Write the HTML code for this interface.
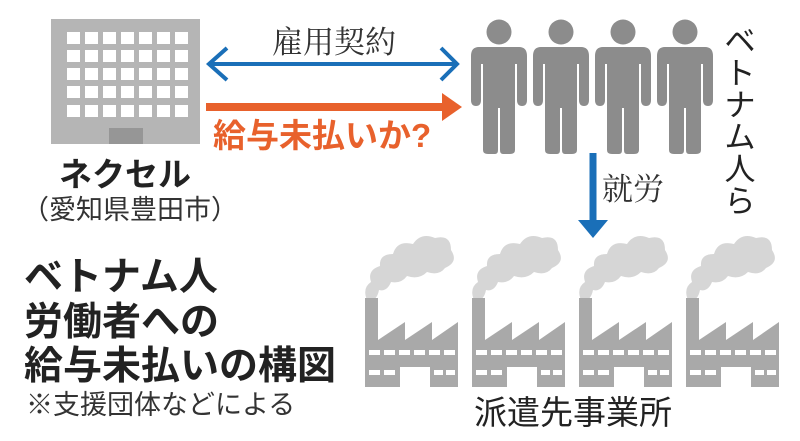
<!DOCTYPE html>
<html><head><meta charset="utf-8"><style>
html,body{margin:0;padding:0;background:#fff}
svg{display:block}
text{font-family:"Liberation Sans","Noto Sans CJK JP",sans-serif}
</style></head><body>
<svg width="800" height="441" viewBox="0 0 800 441" xmlns="http://www.w3.org/2000/svg">
<defs>
<g id="person" fill="#8c8c8c">
 <circle cx="0" cy="32" r="12.5"/>
 <path d="M-20,47 Q-28,47 -28,56 L-28,100 Q-28,106 -23,106 Q-18,106 -18,100 L-18,64 L-16,64 L-16,150 Q-16,154 -11,154 L-4,154 Q-1,154 -1,150 L-1,108 L1,108 L1,150 Q1,154 4,154 L11,154 Q16,154 16,150 L16,64 L18,64 L18,100 Q18,106 23,106 Q28,106 28,100 L28,56 Q28,47 20,47 Z"/>
</g>
<g id="factory">
 <path fill="#d6d6d6" d="M2,70 Q-3,58 6,52 Q2,40 15,36 Q14,24 28,24 Q32,10 48,14 Q56,2 70,8 Q86,4 86,20 Q94,32 80,38 Q74,46 62,42 Q54,50 42,46 Q36,54 26,52 Q22,62 14,60 Q12,70 6,70 Z"/>
 <path fill="#a9a9a9" d="M0,68 L13,68 L13,110 L40,92 L40,110 L67,92 L67,110 L93,92 L93,157 L65,157 L65,137 L35,137 L35,157 L0,157 Z"/>
 <g fill="#fff">
  <rect x="4" y="120" width="11" height="5"/><rect x="19" y="120" width="11" height="5"/><rect x="34" y="120" width="11" height="5"/><rect x="49" y="120" width="11" height="5"/><rect x="64" y="120" width="11" height="5"/><rect x="79" y="120" width="11" height="5"/>
  <rect x="4" y="140" width="11" height="5"/><rect x="19" y="140" width="11" height="5"/><rect x="69" y="140" width="9" height="5"/><rect x="81" y="140" width="9" height="5"/>
 </g>
</g>
</defs>

<rect x="51" y="19" width="149" height="125" fill="#b5b5b5"/>
<rect x="109" y="128" width="34" height="16" fill="#969696"/>
<g fill="#fff">
 <rect x="67" y="32" width="13" height="12"/><rect x="85" y="32" width="13" height="12"/><rect x="103" y="32" width="13" height="12"/><rect x="121" y="32" width="13" height="12"/><rect x="139" y="32" width="13" height="12"/><rect x="157" y="32" width="13" height="12"/><rect x="175" y="32" width="13" height="12"/>
 <rect x="67" y="50" width="13" height="12"/><rect x="85" y="50" width="13" height="12"/><rect x="103" y="50" width="13" height="12"/><rect x="121" y="50" width="13" height="12"/><rect x="139" y="50" width="13" height="12"/><rect x="157" y="50" width="13" height="12"/><rect x="175" y="50" width="13" height="12"/>
 <rect x="67" y="68" width="13" height="12"/><rect x="85" y="68" width="13" height="12"/><rect x="103" y="68" width="13" height="12"/><rect x="121" y="68" width="13" height="12"/><rect x="139" y="68" width="13" height="12"/><rect x="157" y="68" width="13" height="12"/><rect x="175" y="68" width="13" height="12"/>
 <rect x="67" y="86" width="13" height="12"/><rect x="85" y="86" width="13" height="12"/><rect x="103" y="86" width="13" height="12"/><rect x="121" y="86" width="13" height="12"/><rect x="139" y="86" width="13" height="12"/><rect x="157" y="86" width="13" height="12"/><rect x="175" y="86" width="13" height="12"/>
 <rect x="67" y="105" width="13" height="12"/><rect x="85" y="105" width="13" height="12"/><rect x="103" y="105" width="13" height="12"/><rect x="121" y="105" width="13" height="12"/><rect x="139" y="105" width="13" height="12"/><rect x="157" y="105" width="13" height="12"/><rect x="175" y="105" width="13" height="12"/>
</g>

<line x1="209" y1="64" x2="457" y2="64" stroke="#1a6fb8" stroke-width="4"/>
<polyline points="227,48 209,64 227,80" fill="none" stroke="#1a6fb8" stroke-width="4"/>
<polyline points="441,48 457,64 441,80" fill="none" stroke="#1a6fb8" stroke-width="4"/>
<text x="334" y="53" font-size="31" fill="#333" text-anchor="middle" style="font-family:'Noto Serif CJK SC','Liberation Serif',serif">雇用契約</text>

<line x1="206" y1="107" x2="445" y2="107" stroke="#e8612c" stroke-width="8"/>
<polygon points="442,93 462,107 442,121" fill="#e8612c"/>
<text x="213" y="147" font-size="33" font-weight="bold" fill="#e8612c">給与未払いか?</text>

<text x="125" y="186" font-size="33" font-weight="bold" fill="#222" text-anchor="middle">ネクセル</text>
<text x="130" y="219" font-size="27" fill="#333" text-anchor="middle">（愛知県豊田市）</text>

<use href="#person" x="499" y="0"/>
<use href="#person" x="561" y="0"/>
<use href="#person" x="623" y="0"/>
<use href="#person" x="685" y="0"/>

<g font-size="31" fill="#222" text-anchor="middle">
 <text x="740" y="52">ベ</text><text x="740" y="84">ト</text><text x="740" y="116">ナ</text><text x="740" y="148">ム</text><text x="740" y="180">人</text><text x="740" y="212">ら</text>
</g>

<line x1="593" y1="153" x2="593" y2="224" stroke="#1a6fb8" stroke-width="7"/>
<polygon points="578,220 608,220 593,238" fill="#1a6fb8"/>
<text x="602" y="200" font-size="31" fill="#333" style="font-family:'Noto Serif CJK SC','Liberation Serif',serif">就労</text>

<use href="#factory" x="365" y="230"/>
<use href="#factory" x="472" y="230"/>
<use href="#factory" x="579" y="230"/>
<use href="#factory" x="686" y="230"/>
<text x="573" y="424" font-size="33" fill="#222" text-anchor="middle">派遣先事業所</text>

<g font-size="39" font-weight="bold" fill="#222">
 <text x="24" y="290">ベトナム人</text>
 <text x="24" y="335">労働者への</text>
 <text x="24" y="379">給与未払いの構図</text>
</g>
<text x="26" y="414" font-size="27" fill="#333">※支援団体などによる</text>
</svg>
</body></html>
